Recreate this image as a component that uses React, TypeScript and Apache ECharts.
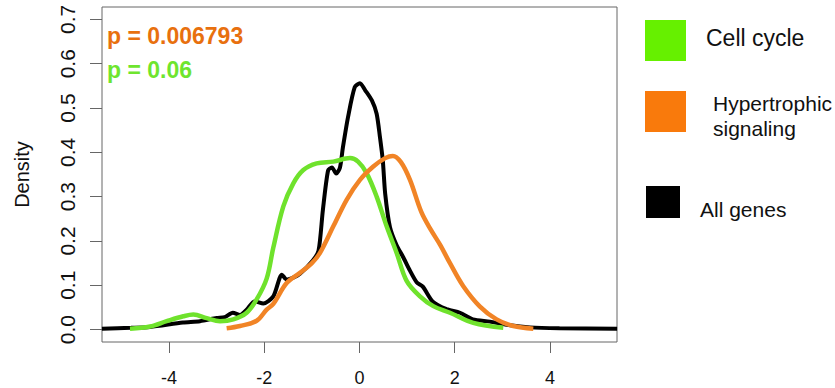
import React, { useEffect, useRef } from 'react';
import * as echarts from 'echarts';

const xTicks = [-4, -2, 0, 2, 4];
const yTicks = [0, 0.1, 0.2, 0.3, 0.4, 0.5, 0.6, 0.7];

const seriesNames = ['All genes', 'Cell cycle', 'Hypertrophic signaling'];
const pValues = ['p = 0.006793', 'p = 0.06'];

const allGenesX = [-5.41, -4.8, -4.4, -3.71, -3.35, -3.0, -2.83, -2.66, -2.51, -2.37, -2.2, -2.02, -1.81, -1.63, -1.53, -1.38, -1.25, -0.98, -0.86, -0.77, -0.66, -0.58, -0.49, -0.41, -0.35, -0.24, -0.1, 0.01, 0.12, 0.26, 0.36, 0.43, 0.49, 0.54, 0.64, 0.78, 0.91, 1.06, 1.2, 1.33, 1.54, 1.83, 2.11, 2.38, 2.74, 3.09, 3.58, 4.2, 5.41];
const allGenesY = [0.002, 0.004, 0.006, 0.016, 0.019, 0.026, 0.028, 0.038, 0.033, 0.045, 0.064, 0.059, 0.075, 0.124, 0.113, 0.118, 0.126, 0.156, 0.178, 0.269, 0.359, 0.366, 0.352, 0.366, 0.41, 0.48, 0.547, 0.556, 0.54, 0.517, 0.487, 0.434, 0.381, 0.306, 0.231, 0.19, 0.165, 0.133, 0.107, 0.097, 0.063, 0.046, 0.038, 0.023, 0.018, 0.011, 0.005, 0.003, 0.002];

const cellCycleX = [-4.82, -4.4, -4.05, -3.7, -3.49, -3.21, -2.93, -2.65, -2.37, -2.16, -1.95, -1.81, -1.6, -1.39, -1.18, -0.9, -0.55, -0.2, -0.03, 0.15, 0.36, 0.57, 0.78, 0.99, 1.27, 1.55, 1.9, 2.39, 3.02];
const cellCycleY = [0.002, 0.007, 0.019, 0.03, 0.034, 0.026, 0.019, 0.023, 0.038, 0.068, 0.115, 0.185, 0.278, 0.33, 0.36, 0.375, 0.379, 0.387, 0.379, 0.353, 0.3, 0.233, 0.173, 0.11, 0.075, 0.053, 0.038, 0.015, 0.004];

const hyperX = [-2.79, -2.51, -2.16, -1.95, -1.81, -1.53, -1.25, -1.0, -0.83, -0.55, -0.27, 0.01, 0.29, 0.54, 0.7, 0.87, 1.06, 1.3, 1.5, 1.7, 1.9, 2.18, 2.53, 2.88, 3.23, 3.65];
const hyperY = [0.003, 0.008, 0.02, 0.045, 0.058, 0.105, 0.128, 0.15, 0.173, 0.233, 0.293, 0.338, 0.368, 0.387, 0.392, 0.378, 0.338, 0.265, 0.225, 0.19, 0.15, 0.098, 0.052, 0.023, 0.008, 0.002];

const zip = (xs: number[], ys: number[]) => xs.map((x, i) => [x, ys[i]]);

const FONT = '"Liberation Sans", Arial, Helvetica, sans-serif';

export default function App() {
  const ref = useRef<HTMLDivElement>(null);
  useEffect(() => {
    const chart = echarts.init(ref.current!, undefined, { renderer: 'svg' });
    chart.setOption({
      animation: false,
      backgroundColor: '#ffffff',
      textStyle: { fontFamily: FONT },
      grid: {
        left: 102,
        top: 7,
        width: 515,
        height: 335,
        show: true,
        borderColor: '#666',
        borderWidth: 1,
        backgroundColor: 'transparent',
      },
      xAxis: {
        type: 'value',
        position: 'bottom',
        min: -5.408,
        max: 5.408,
        axisLine: { show: false, onZero: false },
        splitLine: { show: false },
        axisTick: {
          show: true,
          customValues: xTicks,
          length: 11,
          lineStyle: { color: '#666', width: 1 },
        },
        axisLabel: {
          customValues: xTicks,
          fontSize: 18,
          color: '#111',
          margin: 27,
          fontFamily: FONT,
        },
      },
      yAxis: {
        type: 'value',
        position: 'left',
        min: -0.028,
        max: 0.728,
        name: 'Density',
        nameLocation: 'middle',
        nameGap: 70,
        nameTextStyle: { fontSize: 20, color: '#111', fontFamily: FONT },
        axisLine: { show: false, onZero: false },
        splitLine: { show: false },
        axisTick: {
          show: true,
          customValues: yTicks,
          length: 12,
          lineStyle: { color: '#666', width: 1 },
        },
        axisLabel: {
          customValues: yTicks,
          rotate: 90,
          fontSize: 21,
          color: '#111',
          margin: 24,
          fontFamily: FONT,
          formatter: (v: number) => v.toFixed(1),
        },
      },
      series: [
        {
          name: seriesNames[0],
          type: 'line',
          data: zip(allGenesX, allGenesY),
          symbol: 'none',
          smooth: 0.25,
          clip: true,
          lineStyle: { color: '#000000', width: 4 },
          z: 2,
        },
        {
          name: seriesNames[1],
          type: 'line',
          data: zip(cellCycleX, cellCycleY),
          symbol: 'none',
          smooth: 0.35,
          clip: true,
          lineStyle: { color: '#6FE22C', width: 4.5 },
          z: 3,
        },
        {
          name: seriesNames[2],
          type: 'line',
          data: zip(hyperX, hyperY),
          symbol: 'none',
          smooth: 0.35,
          clip: true,
          lineStyle: { color: '#F18426', width: 4.5 },
          z: 4,
        },
      ],
      graphic: [
        { type: 'rect', left: 645, top: 20, shape: { width: 41, height: 41 }, style: { fill: '#66F000' } },
        { type: 'rect', left: 645, top: 91, shape: { width: 41, height: 41 }, style: { fill: '#F97A0C' } },
        { type: 'rect', left: 646, top: 186, shape: { width: 34, height: 32 }, style: { fill: '#000000' } },
        {
          type: 'text', x: 706, y: 38,
          style: { text: seriesNames[1], fontSize: 23, fontFamily: FONT, fill: '#111', textVerticalAlign: 'middle' },
        },
        {
          type: 'text', x: 713, y: 115.5,
          style: { text: 'Hypertrophic\nsignaling', fontSize: 21, lineHeight: 25, fontFamily: FONT, fill: '#111', textVerticalAlign: 'middle' },
        },
        {
          type: 'text', x: 700, y: 209,
          style: { text: seriesNames[0], fontSize: 21, fontFamily: FONT, fill: '#111', textVerticalAlign: 'middle' },
        },
        {
          type: 'text', x: 107, y: 36,
          style: { text: pValues[0], fontSize: 23, fontWeight: 'bold', fontFamily: FONT, fill: '#E8700E', textVerticalAlign: 'middle' },
        },
        {
          type: 'text', x: 107, y: 70,
          style: { text: pValues[1], fontSize: 23, fontWeight: 'bold', fontFamily: FONT, fill: '#6EE52E', textVerticalAlign: 'middle' },
        },
      ],
    });
    return () => chart.dispose();
  }, []);
  return (
    <div
      ref={ref}
      style={{ position: 'fixed', left: 0, top: 0, width: 835, height: 388, background: '#fff' }}
    />
  );
}
